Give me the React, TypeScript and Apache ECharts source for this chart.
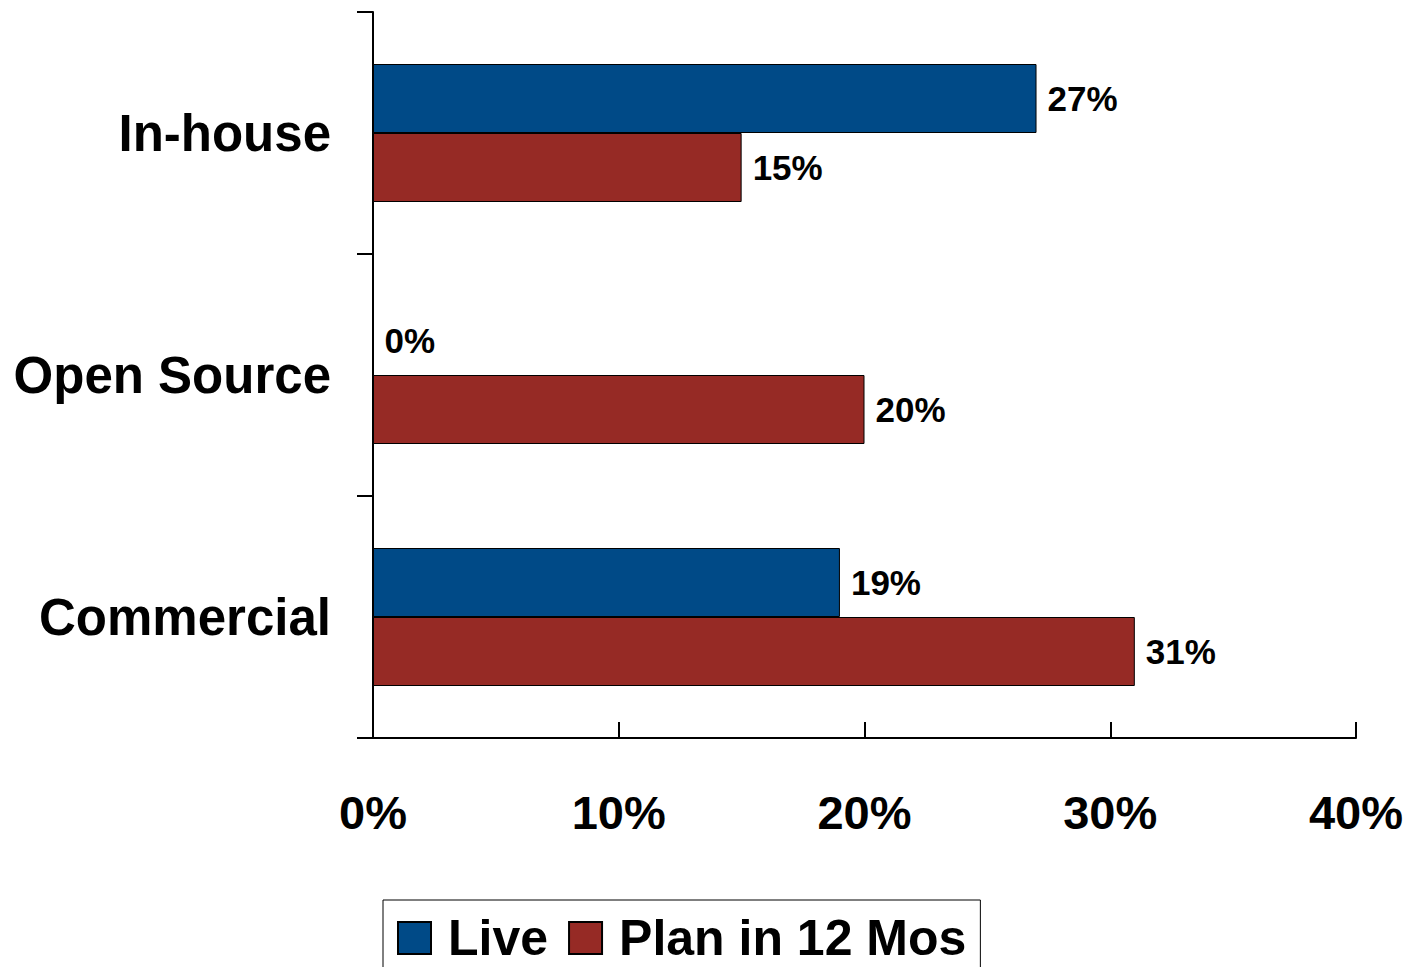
import React, { useEffect, useRef } from "react";
import * as echarts from "echarts";

const categories = ["In-house", "Open Source", "Commercial"];
const liveValues = [27, 0, 19];
const planValues = [15, 20, 31];
const xTicks = [0, 10, 20, 30, 40];
const seriesNames = ["Live", "Plan in 12 Mos"];
const colors = ["#004A87", "#962A25"];

export default function App() {
  const ref = useRef<HTMLDivElement>(null);
  useEffect(() => {
    document.body.style.margin = "0";
    const chart = echarts.init(ref.current!, null, { renderer: "svg" });
    const font = "'Liberation Sans', Arial, sans-serif";
    const labelCfg = {
      show: true,
      position: "right",
      distance: 11,
      formatter: "{c}%",
      color: "#000",
      fontWeight: "bold",
      fontSize: 35,
      fontFamily: font,
    };
    chart.setOption({
      animation: false,
      backgroundColor: "#fff",
      grid: { left: 373, right: 53, top: 12, bottom: 229, containLabel: false },
      xAxis: {
        type: "value",
        min: xTicks[0],
        max: xTicks[xTicks.length - 1],
        interval: 10,
        splitLine: { show: false },
        axisLine: { show: true, lineStyle: { color: "#000", width: 2 } },
        axisTick: { show: true, inside: true, length: 16, lineStyle: { color: "#000", width: 2 } },
        axisLabel: {
          formatter: "{value}%",
          color: "#000",
          fontWeight: "bold",
          fontSize: 47,
          fontFamily: font,
          margin: 51,
        },
      },
      yAxis: {
        type: "category",
        inverse: true,
        data: categories,
        axisLine: { show: true, lineStyle: { color: "#000", width: 2 } },
        axisTick: { show: true, inside: false, length: 16, lineStyle: { color: "#000", width: 2 } },
        axisLabel: {
          color: "#000",
          fontWeight: "bold",
          fontSize: 51,
          fontFamily: font,
          margin: 42,
        },
      },
      legend: {
        left: 383,
        top: 900,
        orient: "horizontal",
        borderColor: "#000",
        borderWidth: 1,
        padding: [13, 14, 15, 14],
        icon: "rect",
        itemWidth: 33,
        itemHeight: 32,
        itemGap: 20,
        textStyle: {
          color: "#000",
          fontWeight: "bold",
          fontSize: 50,
          fontFamily: font,
          lineHeight: 50,
          padding: [0, 0, 0, 12],
        },
        data: seriesNames,
      },
      series: [
        {
          name: seriesNames[0],
          type: "bar",
          data: liveValues,
          barWidth: 69,
          barGap: "0%",
          itemStyle: { color: colors[0], borderColor: "#000", borderWidth: 1 },
          label: labelCfg,
        },
        {
          name: seriesNames[1],
          type: "bar",
          data: planValues,
          barWidth: 69,
          barGap: "0%",
          itemStyle: { color: colors[1], borderColor: "#000", borderWidth: 1 },
          label: labelCfg,
        },
      ],
    });
    return () => chart.dispose();
  }, []);
  return <div ref={ref} style={{ width: 1409, height: 967 }} />;
}
